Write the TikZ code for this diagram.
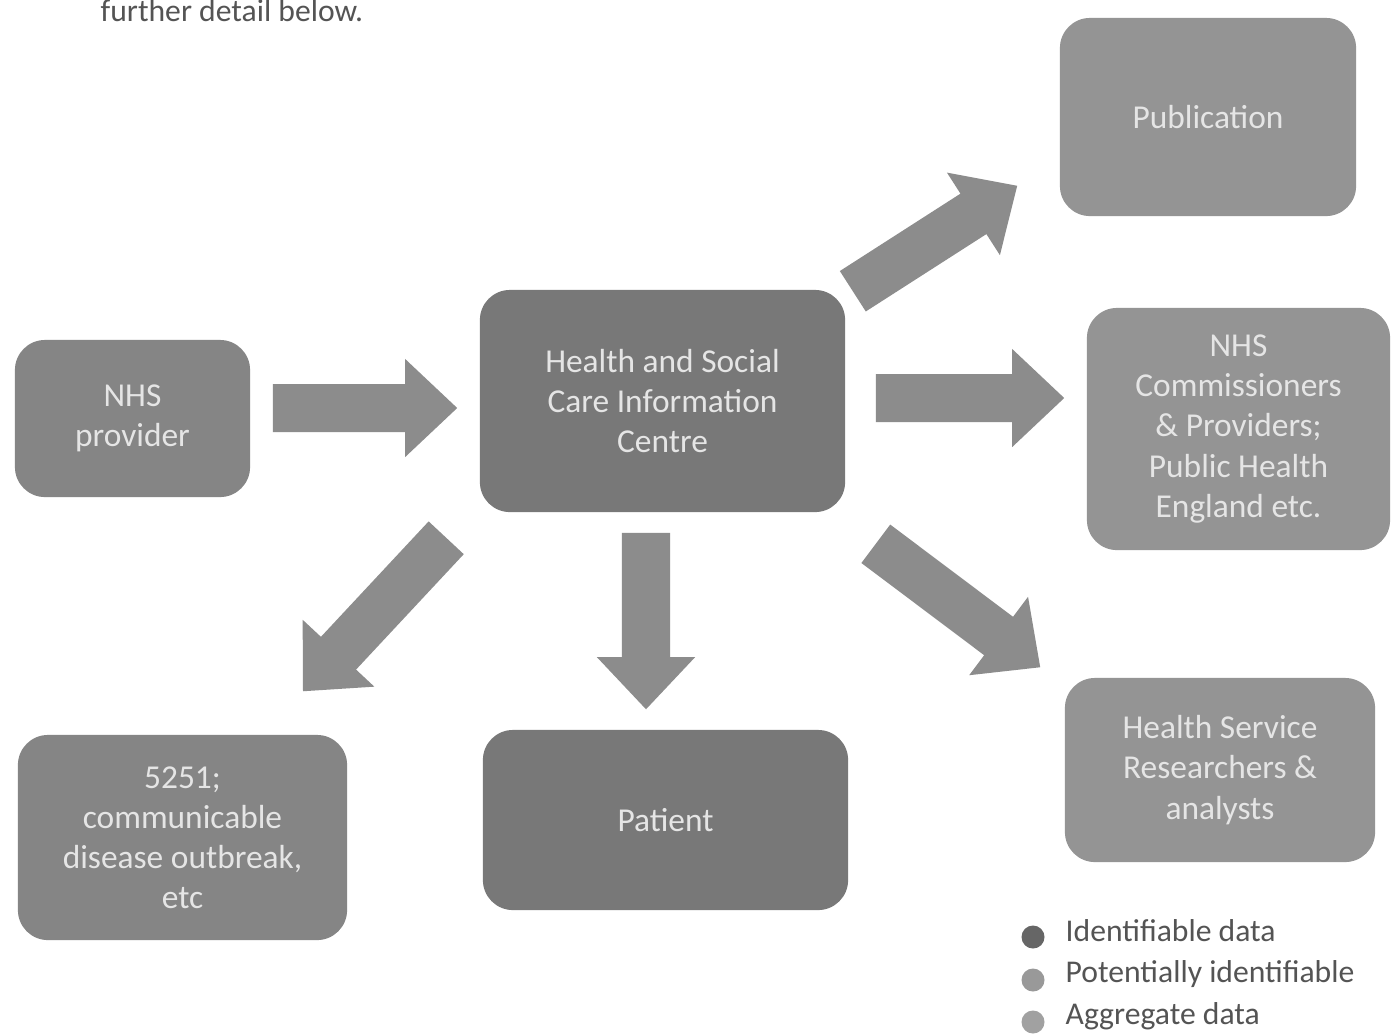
\documentclass[tikz,border=0pt]{standalone}
\usepackage{fontspec}
\setmainfont{Carlito}
\usetikzlibrary{calc}
\definecolor{boxdark}{gray}{0.47}
\definecolor{boxmid}{gray}{0.52}
\definecolor{boxlight}{gray}{0.58}
\definecolor{arrowfill}{gray}{0.55}
\definecolor{boxtext}{gray}{0.9}
\definecolor{legtext}{gray}{0.33}
\definecolor{dotA}{gray}{0.40}
\definecolor{dotB}{gray}{0.60}
\definecolor{dotC}{gray}{0.63}
\newcommand\blockarr[2]{%
  \coordinate (hb) at ($(#2)!0.52cm!(#1)$);
  \fill[arrowfill] ($(#1)!0.24cm!90:(#2)$) -- ($(hb)!0.24cm!-90:(#1)$) -- ($(hb)!0.49cm!-90:(#1)$) -- (#2)
    -- ($(hb)!0.49cm!90:(#1)$) -- ($(hb)!0.24cm!90:(#1)$) -- ($(#1)!0.24cm!-90:(#2)$) -- cycle;
}
\begin{document}
\begin{tikzpicture}[x=0.01cm,y=-0.01cm,
  box/.style={rounded corners=0.3cm, inner sep=0pt, align=center, text=boxtext,
    font=\fontsize{9.5}{11.4}\selectfont},
  legdot/.style={circle, minimum size=0.23cm, inner sep=0pt},
  legtxt/.style={anchor=west, text=legtext, font=\fontsize{9}{10}\selectfont, inner sep=0pt}]
\useasboundingbox (0,0) rectangle (1391,1035);
\fill[white] (0,0) rectangle (1391,1035);

\node[anchor=base west, text=legtext, font=\fontsize{9}{10}\selectfont, inner sep=0pt] (top) at (100,21) {further detail below.};

\node[box, fill=boxmid, minimum width=2.35cm, minimum height=1.57cm] (prov) at (132.5,418.5) {NHS\\provider};
\node[box, fill=boxdark, minimum width=3.65cm, minimum height=2.22cm] (hscic) at (662.5,401) {Health and Social\\Care Information\\Centre};
\node[box, fill=boxlight, minimum width=2.96cm, minimum height=1.98cm] (pub) at (1208,117) {Publication};
\node[box, fill=boxlight, minimum width=3.03cm, minimum height=2.42cm] (comm) at (1238.5,429) {NHS\\Commissioners\\\& Providers;\\Public Health\\England etc.};
\node[box, fill=boxlight, minimum width=3.10cm, minimum height=1.84cm] (res) at (1220,770) {Health Service\\Researchers \&\\analysts};
\node[box, fill=boxdark, minimum width=3.65cm, minimum height=1.80cm] (pat) at (665.5,820) {Patient};
\node[box, fill=boxmid, minimum width=3.29cm, minimum height=2.05cm] (s251) at (182.5,837.5) {5251;\\communicable\\disease outbreak,\\etc};

\coordinate (a1t) at ($(prov.east)+(22,-10.5)$);
\coordinate (a1h) at ($(hscic.west)+(-22,7)$);
\coordinate (a2t) at ($(hscic.east)+(30,-3)$);
\coordinate (a2h) at ($(comm.west)+(-22,-31)$);
\coordinate (a3t) at ($(hscic.north east)+(7,2)$);
\coordinate (a3h) at ($(pub.south west)+(-42,-31)$);
\coordinate (a4t) at ($(hscic.south east)+(30,31)$);
\coordinate (a4h) at ($(res.north west)+(-24,-10)$);
\coordinate (a5t) at ($(hscic.south)+(-16.5,20)$);
\coordinate (a5h) at ($(pat.north)+(-19.5,-20)$);
\coordinate (a6t) at ($(hscic.south west)+(-33,25)$);
\coordinate (a6h) at ($(s251.north)+(120.5,-43)$);
\blockarr{a1t}{a1h}
\blockarr{a2t}{a2h}
\blockarr{a3t}{a3h}
\blockarr{a4t}{a4h}
\blockarr{a5t}{a5h}
\blockarr{a6t}{a6h}

\node[legdot, fill=dotA] (d1) at (1033,937) {};
\node[legdot, fill=dotB] (d2) at (1033,980) {};
\node[legdot, fill=dotC] (d3) at (1033,1022) {};
\node[legtxt] (l1) at (1065,931) {Identifiable data};
\node[legtxt] (l2) at (1065,974) {Potentially identifiable};
\node[legtxt] (l3) at (1065,1016) {Aggregate data};
\end{tikzpicture}
\end{document}
